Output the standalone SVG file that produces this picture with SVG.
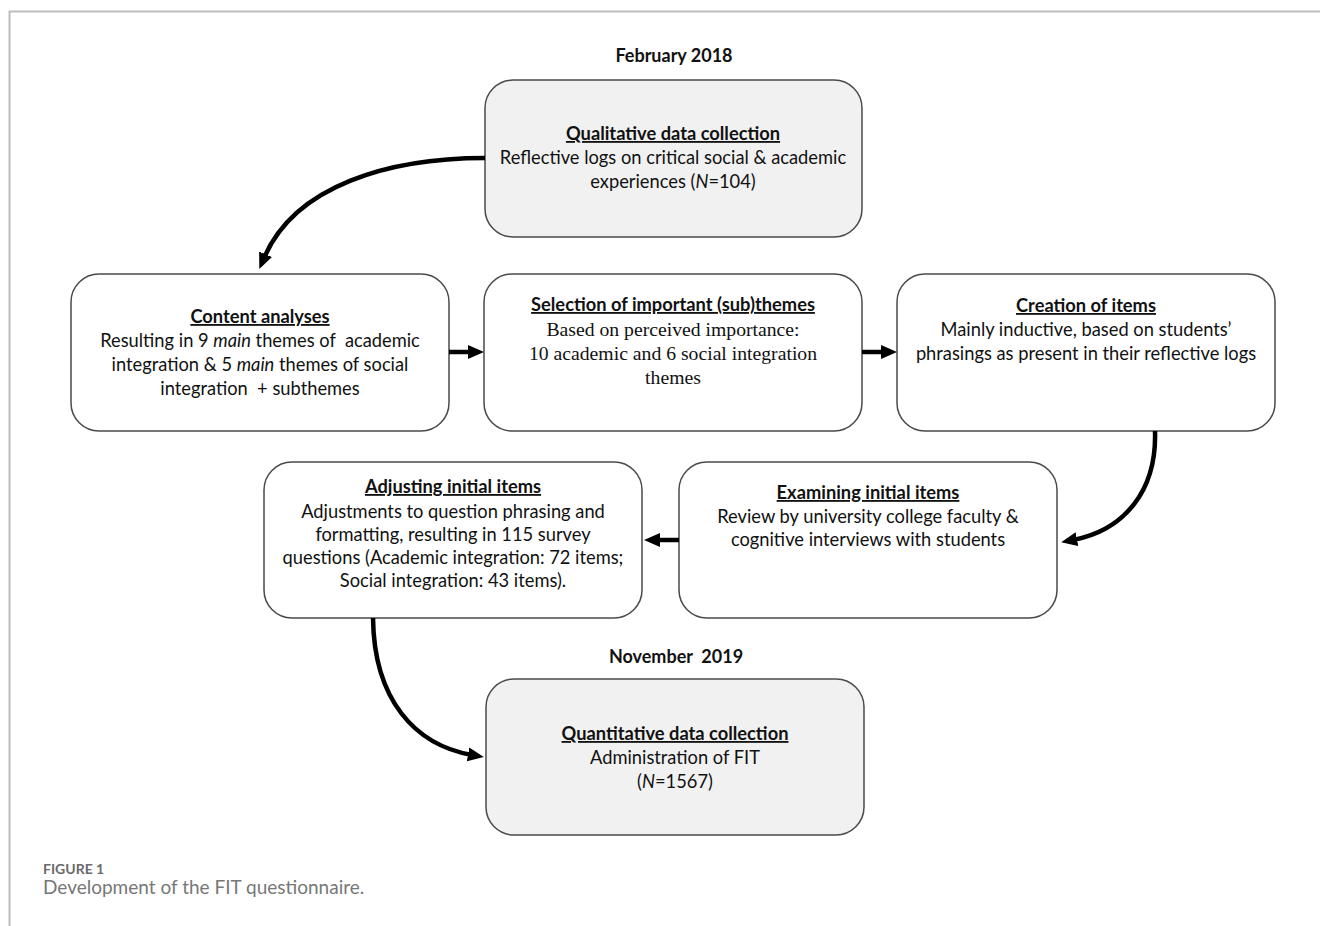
<svg xmlns="http://www.w3.org/2000/svg" width="1320" height="926" viewBox="0 0 1320 926">
<defs>
<style>
.frame{fill:none;stroke:#bdbdbd;stroke-width:2}
.box{fill:#ffffff;stroke:#4a4a4a;stroke-width:1.5}
.grey{fill:#f1f1f1}
.t{font-family:Lato,"Open Sans",sans-serif;font-size:18.3px;fill:#111;text-anchor:middle}
.h{font-weight:bold;text-decoration:underline}
.serif{font-family:"Liberation Serif","Times New Roman",serif;font-size:19.7px}
.date{font-family:Lato,"Open Sans",sans-serif;font-size:18px;font-weight:bold;fill:#111;text-anchor:middle}
.conn{fill:none;stroke:#000;stroke-width:4.5}
.cap1{font-family:Lato,"Open Sans",sans-serif;font-size:14px;font-weight:bold;fill:#6a6a6a}
.cap2{font-family:Lato,"Open Sans",sans-serif;font-size:19px;fill:#777}
</style>
<marker id="ah" markerUnits="userSpaceOnUse" markerWidth="18" markerHeight="16" refX="4" refY="8" orient="auto">
<path d="M0,1 L16,8 L0,15 Z" fill="#000"/>
</marker>
</defs>
<path class="frame" d="M1320,11.5 H9.5 V926"/>
<text class="date" x="674" y="62">February 2018</text>
<text class="date" x="676" y="663" xml:space="preserve">November  2019</text>
<g id="node-qualitative">
<rect class="box grey" x="485" y="80" width="377" height="157" rx="28"/>
<text class="t h" x="673" y="140">Qualitative data collection</text>
<text class="t" x="673" y="164">Reflective logs on critical social &amp; academic</text>
<text class="t" x="673" y="188">experiences (<tspan font-style="italic">N</tspan>=104)</text>
</g>
<g id="node-content">
<rect class="box" x="71" y="274" width="378" height="157" rx="28"/>
<text class="t h" x="260" y="323">Content analyses</text>
<text class="t" x="260" y="347" xml:space="preserve">Resulting in 9 <tspan font-style="italic">main</tspan> themes of  academic</text>
<text class="t" x="260" y="371">integration &amp; 5 <tspan font-style="italic">main</tspan> themes of social</text>
<text class="t" x="260" y="395" xml:space="preserve">integration  + subthemes</text>
</g>
<g id="node-selection">
<rect class="box" x="484" y="274" width="378" height="157" rx="28"/>
<text class="t h" x="673" y="311">Selection of important (sub)themes</text>
<text class="t serif" x="673" y="336">Based on perceived importance:</text>
<text class="t serif" x="673" y="360">10 academic and 6 social integration</text>
<text class="t serif" x="673" y="384">themes</text>
</g>
<g id="node-creation">
<rect class="box" x="897" y="274" width="378" height="157" rx="28"/>
<text class="t h" x="1086" y="312">Creation of items</text>
<text class="t" x="1086" y="336">Mainly inductive, based on students’</text>
<text class="t" x="1086" y="360">phrasings as present in their reflective logs</text>
</g>
<g id="node-adjusting">
<rect class="box" x="264" y="462" width="378" height="156" rx="28"/>
<text class="t h" x="453" y="493">Adjusting initial items</text>
<text class="t" x="453" y="518">Adjustments to question phrasing and</text>
<text class="t" x="453" y="541">formatting, resulting in 115 survey</text>
<text class="t" x="453" y="564">questions (Academic integration: 72 items;</text>
<text class="t" x="453" y="587">Social integration: 43 items).</text>
</g>
<g id="node-examining">
<rect class="box" x="679" y="462" width="378" height="156" rx="28"/>
<text class="t h" x="868" y="499">Examining initial items</text>
<text class="t" x="868" y="523">Review by university college faculty &amp;</text>
<text class="t" x="868" y="546">cognitive interviews with students</text>
</g>
<g id="node-quantitative">
<rect class="box grey" x="486" y="679" width="378" height="156" rx="28"/>
<text class="t h" x="675" y="740">Quantitative data collection</text>
<text class="t" x="675" y="764">Administration of FIT</text>
<text class="t" x="675" y="788">(<tspan font-style="italic">N</tspan>=1567)</text>
</g>
<g id="connectors">
<path class="conn" d="M485,158 C390,158 295,185 264,258" marker-end="url(#ah)"/>
<path class="conn" d="M449,352 H472" marker-end="url(#ah)"/>
<path class="conn" d="M862,352 H885" marker-end="url(#ah)"/>
<path class="conn" d="M1155,431 C1157,490 1125,530 1073,540" marker-end="url(#ah)"/>
<path class="conn" d="M679,540 H656" marker-end="url(#ah)"/>
<path class="conn" d="M373,618 C374,700 415,745 472,755" marker-end="url(#ah)"/>
</g>
<text class="cap1" x="43" y="874">FIGURE 1</text>
<text class="cap2" x="43" y="894">Development of the FIT questionnaire.</text>
</svg>
